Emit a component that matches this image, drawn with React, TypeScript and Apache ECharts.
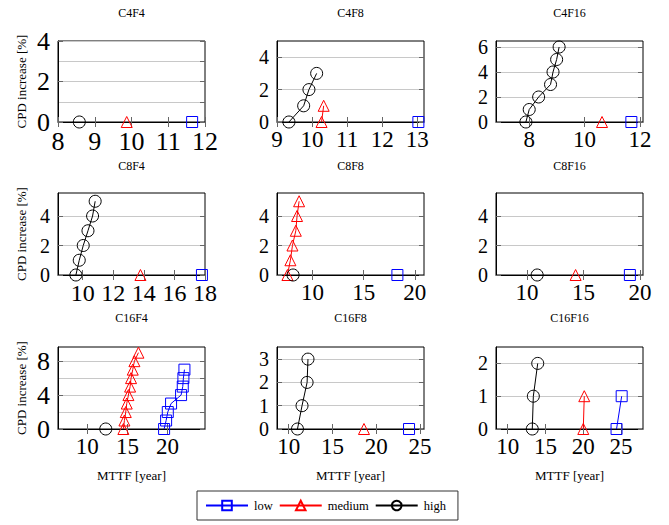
import React, { useEffect, useRef } from 'react';
import * as echarts from 'echarts';

// ---- data ----
const panelTitles = ['C4F4', 'C4F8', 'C4F16', 'C8F4', 'C8F8', 'C8F16', 'C16F4', 'C16F8', 'C16F16'];
const seriesNames = ['low', 'medium', 'high'];

const xRanges: [number, number][] = [
  [8, 12], [9, 13.19], [6.8, 12.11],
  [8.39, 18], [6.53, 20.9], [7.26, 20.26],
  [6.33, 24.7], [8.66, 25.46], [8.45, 27.9],
];
const yRanges: [number, number][] = [
  [0, 4], [0, 5], [0, 6.48],
  [0, 5.56], [0, 5.56], [0, 5.56],
  [0, 9.67], [0, 3.52], [0, 2.5],
];
const xTickValues: number[][] = [
  [8, 9, 10, 11, 12], [9, 10, 11, 12, 13], [8, 10, 12],
  [10, 12, 14, 16, 18], [10, 15, 20], [10, 15, 20],
  [10, 15, 20], [10, 15, 20, 25], [10, 15, 20, 25],
];
const yTickValues: number[][] = [
  [0, 1, 2, 3, 4], [0, 2, 4], [0, 2, 4, 6],
  [0, 2, 4], [0, 2, 4], [0, 2, 4],
  [0, 2, 4, 6, 8], [0, 1, 2, 3], [0, 1, 2],
];

const lowPoints: number[][][] = [
  [[11.65, 0]],
  [[13.03, 0]],
  [[11.69, 0]],
  [[17.8, 0]],
  [[18.3, 0]],
  [[19.1, 0]],
  [[19.59, 0], [19.84, 1], [20.05, 2], [20.46, 3], [21.71, 4], [21.92, 5], [22.0, 6], [22.13, 7]],
  [[23.75, 0]],
  [[24.4, 0], [25.08, 1]],
];
const mediumPoints: number[][][] = [
  [[9.87, 0]],
  [[10.27, 0], [10.33, 1]],
  [[10.63, 0]],
  [[13.78, 0]],
  [[7.55, 0], [7.84, 1], [8.04, 2], [8.37, 3], [8.49, 4], [8.69, 5]],
  [[14.3, 0]],
  [[14.5, 0], [14.63, 1], [14.8, 2], [14.92, 3], [15.13, 4], [15.34, 5], [15.46, 6], [15.67, 7], [15.88, 8], [16.38, 9]],
  [[18.6, 0]],
  [[20.0, 0], [20.13, 1]],
];
const highPoints: number[][][] = [
  [[8.58, 0]],
  [[9.34, 0], [9.76, 1], [9.91, 2], [10.13, 3]],
  [[7.88, 0], [8.0, 1], [8.34, 2], [8.77, 3], [8.86, 4], [8.99, 5], [9.08, 6]],
  [[9.56, 0], [9.78, 1], [10.04, 2], [10.35, 3], [10.65, 4], [10.82, 5]],
  [[8.1, 0]],
  [[10.9, 0]],
  [[12.3, 0]],
  [[11.0, 0], [11.52, 1], [12.1, 2], [12.2, 3]],
  [[13.25, 0], [13.39, 1], [13.97, 2]],
];

const yAxisTitle = 'CPD increase [%]';
const xAxisTitle = 'MTTF [year]';

// ---- layout / style ----
const FONT = 'Liberation Serif';
const colLefts = [58, 277, 496];
const rowTops = [41, 193, 347];
const rowHeights = [81, 82, 82];
const titleYs = [13, 166, 318];
const plotW = 147;
const xLabelSizes = [26, 23, 23, 24, 23, 23, 23, 23, 23];
const yLabelSizes = [26, 20, 20, 20, 20, 20, 26, 20, 20];
const seriesStyles = [
  { color: '#0000ff', symbol: 'rect', size: 11 },
  { color: '#ff0000', symbol: 'triangle', size: 11 },
  { color: '#000000', symbol: 'circle', size: 12 },
];

function labelStyle(size: number) {
  return {
    formatter: '{n|{value}}',
    rich: { n: { fontFamily: FONT, fontSize: size, lineHeight: size, color: '#000' } },
    fontFamily: FONT, fontSize: size, color: '#000',
  };
}

function buildOption() {
  const grid: any[] = [];
  const xAxis: any[] = [];
  const yAxis: any[] = [];
  const series: any[] = [];
  const graphic: any[] = [];
  const pointSets = [lowPoints, mediumPoints, highPoints];

  panelTitles.forEach((title, i) => {
    const r = Math.floor(i / 3);
    const c = i % 3;
    const left = colLefts[c];
    const top = rowTops[r];
    const h = rowHeights[r];
    grid.push({
      left, top, width: plotW, height: h,
      show: true, borderColor: '#000', borderWidth: 1, backgroundColor: '#fff',
    });
    graphic.push({
      type: 'text', x: left + plotW / 2, y: titleYs[r],
      style: { text: title, fontFamily: FONT, fontSize: 12, fill: '#000', align: 'center', verticalAlign: 'middle' },
    });
    const tickCommon = { inside: true, length: 5, lineStyle: { color: '#666', width: 1 } };
    xAxis.push({
      type: 'value', gridIndex: i, position: 'bottom',
      min: xRanges[i][0], max: xRanges[i][1],
      axisLine: { show: true, onZero: false, lineStyle: { color: '#000', width: 1 } },
      axisTick: { ...tickCommon, customValues: xTickValues[i] },
      axisLabel: {
        customValues: xTickValues[i], margin: 6,
        ...labelStyle(xLabelSizes[i]),
        showMinLabel: true, showMaxLabel: true, hideOverlap: false,
      },
      splitLine: { show: false },
      name: r === 2 ? xAxisTitle : '',
      nameLocation: 'middle', nameGap: 40,
      nameTextStyle: { fontFamily: FONT, fontSize: 13, color: '#000' },
    });
    xAxis.push({
      type: 'value', gridIndex: i, position: 'top',
      min: xRanges[i][0], max: xRanges[i][1],
      axisLine: { show: false },
      axisTick: { ...tickCommon, customValues: xTickValues[i] },
      axisLabel: { show: false },
      splitLine: { show: false },
    });
    yAxis.push({
      type: 'value', gridIndex: i, position: 'left',
      min: yRanges[i][0], max: yRanges[i][1],
      axisLine: { show: true, onZero: false, lineStyle: { color: '#000', width: 1 } },
      axisTick: { ...tickCommon, customValues: yTickValues[i] },
      axisLabel: {
        customValues: yTickValues[i], margin: 8,
        ...labelStyle(yLabelSizes[i]),
        showMinLabel: true, showMaxLabel: true, hideOverlap: false,
      },
      splitLine: { show: true, lineStyle: { color: '#c8c8c8', width: 1 } },
      name: c === 0 ? yAxisTitle : '',
      nameLocation: 'middle', nameGap: 30,
      nameTextStyle: { fontFamily: FONT, fontSize: 13, color: '#000' },
    });
    yAxis.push({
      type: 'value', gridIndex: i, position: 'right',
      min: yRanges[i][0], max: yRanges[i][1],
      axisLine: { show: false },
      axisTick: { ...tickCommon, customValues: yTickValues[i] },
      axisLabel: { show: false },
      splitLine: { show: false },
    });
    seriesNames.forEach((name, k) => {
      const st = seriesStyles[k];
      series.push({
        type: 'line', name,
        xAxisIndex: 2 * i, yAxisIndex: 2 * i,
        data: pointSets[k][i],
        symbol: st.symbol, symbolSize: st.size,
        showAllSymbol: true, clip: false,
        lineStyle: { color: st.color, width: 1 },
        itemStyle: { color: 'rgba(255,255,255,0)', borderColor: st.color, borderWidth: 1 },
        emphasis: { disabled: true },
        z: 3,
      });
    });
  });

  return {
    animation: false,
    backgroundColor: '#fff',
    textStyle: { fontFamily: FONT },
    grid, xAxis, yAxis, series, graphic,
    legend: {
      data: seriesNames,
      left: 197, top: 491,
      orient: 'horizontal',
      padding: [8, 12, 8, 8],
      itemGap: 6,
      itemWidth: 42, itemHeight: 12,
      borderColor: '#333', borderWidth: 1,
      backgroundColor: '#fff',
      selectedMode: false,
      textStyle: { fontFamily: FONT, fontSize: 12.5, color: '#000', padding: [0, 0, 0, 1] },
    },
  };
}

export default function App() {
  const ref = useRef<HTMLDivElement>(null);
  useEffect(() => {
    if (!ref.current) return;
    const chart = echarts.init(ref.current, undefined, { renderer: 'svg' });
    chart.setOption(buildOption() as any);
    return () => chart.dispose();
  }, []);
  return (
    <div
      ref={ref}
      style={{ position: 'absolute', left: 0, top: 0, width: 669, height: 525, background: '#fff' }}
    />
  );
}
